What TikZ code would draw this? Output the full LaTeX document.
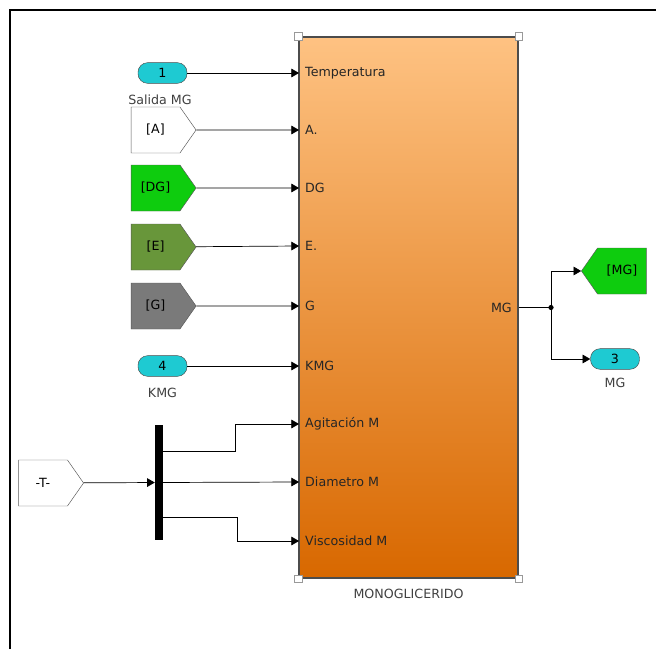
\documentclass[tikz,border=0pt]{standalone}
\usepackage{fontspec}
\setmainfont{DejaVu Sans}
\usetikzlibrary{calc,arrows.meta,shapes.symbols}

\definecolor{blkTop}{RGB}{254,194,130}
\definecolor{blkBot}{RGB}{216,104,0}
\definecolor{portCyan}{RGB}{30,202,210}
\definecolor{tagGreen}{RGB}{14,204,14}
\definecolor{tagOlive}{RGB}{104,150,58}
\definecolor{tagGray}{RGB}{122,122,122}

\newcommand{\smallfont}{\fontsize{10.8}{12}\selectfont}

\tikzset{
  sig/.style={->,>={Triangle[length=2.3mm,width=2.6mm]},line width=0.6pt},
  wire/.style={line width=0.6pt},
  inport/.style={draw=black!70,fill=portCyan,rounded corners=0.29cm,
    minimum width=1.47cm,minimum height=0.62cm,inner sep=0pt,font=\smallfont},
  tagblk/.style={draw=black!65,shape=signal,signal pointer angle=110,
    minimum height=1.38cm,minimum width=1.95cm,inner sep=0pt,font=\smallfont},
  mainblk/.style={draw=black!70,line width=0.9pt,top color=blkTop,bottom color=blkBot,
    minimum width=6.57cm,minimum height=16.23cm,inner sep=0pt},
  handle/.style={draw=black!40,fill=white,line width=0.6pt,minimum size=0.22cm,inner sep=0pt},
  portlbl/.style={anchor=west,inner sep=0pt,font=\smallfont,text=black!85},
  blklbl/.style={inner sep=0pt,font=\smallfont,text=black!75}
}

\begin{document}
\begin{tikzpicture}[x=0.03cm,y=-0.03cm]
  \useasboundingbox (0,0) rectangle (656,649);
  % frame
  \draw[line width=2.1pt] (10,649) -- (10,10) -- (656,10);

  % subsystem
  \node[mainblk] (mono) at (408.5,307.5) {};
  \foreach \a in {north west,north east,south west,south east}
    \node[handle] (h-\a) at (mono.\a) {};
  \node[blklbl] (monolbl) at (408.5,594) {MONOGLICERIDO};
  \foreach \y/\t [count=\i] in {73/Temperatura,130/A.,188/DG,246/E.,306/G,366/KMG,
      424/Agitación M,482/Diametro M,541/Viscosidad M} {
    \coordinate (in\i) at (299,\y);
    \node[portlbl] (pl\i) at (305,\y) {\t};
  }
  \node[portlbl,anchor=east] (plout) at (512,307.5) {MG};

  % sources
  \node[inport] (i1) at (162.5,73) {1};
  \node[blklbl] (i1lbl) at (160,100) {Salida MG};
  \node[tagblk,signal to=east,fill=white] (fA) at (155.5,130) {[A]};
  \node[tagblk,signal to=east,fill=tagGreen] (fDG) at (155.5,188) {[DG]};
  \node[tagblk,signal to=east,fill=tagOlive] (fE) at (155.5,247) {[E]};
  \node[tagblk,signal to=east,fill=tagGray] (fG) at (155.5,306) {[G]};
  \node[inport] (i4) at (162.5,366) {4};
  \node[blklbl] (i4lbl) at (162.5,393) {KMG};
  \node[tagblk,signal to=east,fill=white] (fT) at (43,483) {-T-};
  \node[fill=black,minimum width=0.24cm,minimum height=3.45cm,inner sep=0pt] (mux) at (159,482.5) {};

  \draw[sig] (i1) -- (in1);
  \draw[sig] (fA) -- (in2);
  \draw[sig] (fDG) -- (in3);
  \draw[sig] (fE) -- (in4);
  \draw[sig] (fG) -- (in5);
  \draw[sig] (i4) -- (in6);
  \draw[sig] (fT) -- (mux);
  \draw[sig] ($(mux.east)+(0,-31.5)$) -- ++(72,0) |- (in7);
  \draw[sig] (mux) -- (in8);
  \draw[sig] ($(mux.east)+(0,34.5)$) -- ++(74,0) |- (in9);

  % outputs
  \coordinate (jn) at (551,307.5);
  \node[tagblk,signal to=west,fill=tagGreen] (gMG) at (622,271) {[MG]};
  \node[inport] (o3) at (615,359) {3};
  \node[blklbl] (o3lbl) at (615,383) {MG};
  \draw[wire] (mono.east) -- (jn);
  \fill (jn) circle (2.6);
  \draw[sig] (jn) |- (gMG);
  \draw[sig] (jn) |- (o3);
\end{tikzpicture}
\end{document}
